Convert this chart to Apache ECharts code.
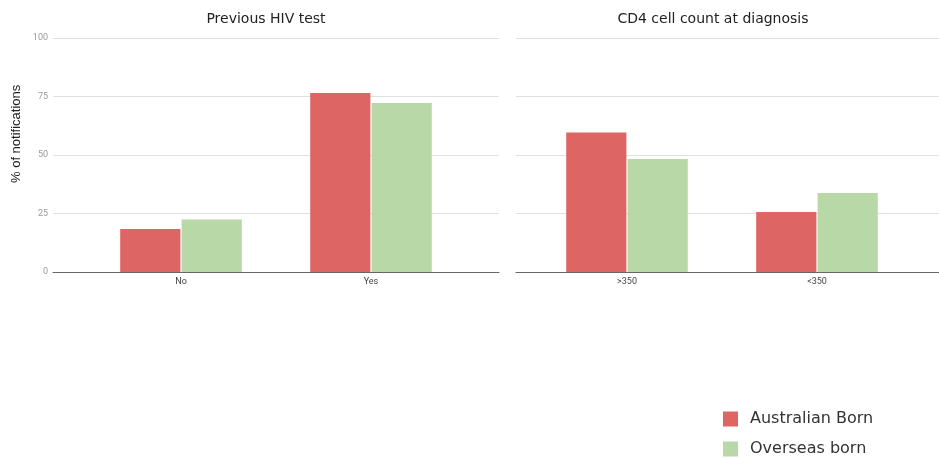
<!DOCTYPE html>
<html>
<head>
<meta charset="utf-8">
<script src="https://cdn.jsdelivr.net/npm/echarts@6/dist/echarts.min.js"></script>
<style>
  html, body { margin: 0; padding: 0; background: #fff; }
  #chart { width: 939px; height: 459px; }
</style>
</head>
<body>
<div id="chart"></div>
<script>
const panelTitles = ['Previous HIV test', 'CD4 cell count at diagnosis'];
const hivCategories = ['No', 'Yes'];
const cd4Categories = ['>350', '<350'];
const seriesNames = ['Australian Born', 'Overseas born'];
const hivAustralian = [18.4, 76.5];
const hivOverseas = [22.4, 72.2];
const cd4Australian = [59.6, 25.6];
const cd4Overseas = [48.3, 33.8];

const colors = ['#dd6563', '#b8d8a8'];
const chart = echarts.init(document.getElementById('chart'));

// background grids (axis line + split lines), bar grids (narrower, holds bars)
const grids = [
  { left: 53, width: 446, top: 38, height: 234 },
  { left: 516, width: 423, top: 38, height: 234 },
  { left: 86, width: 380, top: 38, height: 234 },
  { left: 532, width: 380, top: 38, height: 234 }
];

const bgX = (i) => ({
  type: 'category', gridIndex: i, data: [''],
  axisLine: { lineStyle: { color: '#666', width: 1 } },
  axisTick: { show: false }, axisLabel: { show: false }
});
const barX = (i, cats) => ({
  type: 'category', gridIndex: i, data: cats,
  axisLine: { show: false }, axisTick: { show: false },
  axisLabel: { color: '#444', fontSize: 9, margin: 5, fontFamily: 'Roboto' }
});
const yAx = (i, showLabels, showSplit) => ({
  type: 'value', gridIndex: i, min: 0, max: 100, interval: 25,
  axisLine: { show: false }, axisTick: { show: false },
  axisLabel: { show: showLabels, color: '#999', fontSize: 9, margin: 5, fontFamily: 'Roboto' },
  splitLine: { show: showSplit, lineStyle: { color: '#e0e0e0', width: 1 } }
});

const bar = (name, data, ax, color) => ({
  name, type: 'bar', xAxisIndex: ax, yAxisIndex: ax, data,
  barGap: '2%', barCategoryGap: '36%',
  itemStyle: { color },
  emphasis: { disabled: true }
});

const titleStyle = { fontSize: 14, fontWeight: 'normal', color: '#222', fontFamily: 'DejaVu Sans' };
const legendText = { fontSize: 16, color: '#333', fontFamily: 'DejaVu Sans', padding: [0, 0, 0, 7] };

const option = {
  animation: false,
  title: [
    { text: panelTitles[0], left: 261, top: 7, textAlign: 'center', textStyle: titleStyle },
    { text: panelTitles[1], left: 708, top: 7, textAlign: 'center', textStyle: titleStyle }
  ],
  legend: [
    { data: [seriesNames[0]], left: 723, top: 411, padding: 0, itemWidth: 15, itemHeight: 15,
      icon: 'rect', textStyle: legendText },
    { data: [seriesNames[1]], left: 723, top: 441, padding: 0, itemWidth: 15, itemHeight: 15,
      icon: 'rect', textStyle: legendText }
  ],
  graphic: [{
    type: 'text', x: 10, y: 183, rotation: Math.PI / 2, originX: 0, originY: 0,
    style: { text: '% of notifications', fontSize: 13, fill: '#222', fontFamily: 'Liberation Sans',
      align: 'left', verticalAlign: 'top' }
  }],
  grid: grids,
  xAxis: [bgX(0), bgX(1), barX(2, hivCategories), barX(3, cd4Categories)],
  yAxis: [yAx(0, true, true), yAx(1, false, true), yAx(2, false, false), yAx(3, false, false)],
  series: [
    bar(seriesNames[0], hivAustralian, 2, colors[0]),
    bar(seriesNames[1], hivOverseas, 2, colors[1]),
    bar(seriesNames[0], cd4Australian, 3, colors[0]),
    bar(seriesNames[1], cd4Overseas, 3, colors[1])
  ]
};
chart.setOption(option);
</script>
</body>
</html>
